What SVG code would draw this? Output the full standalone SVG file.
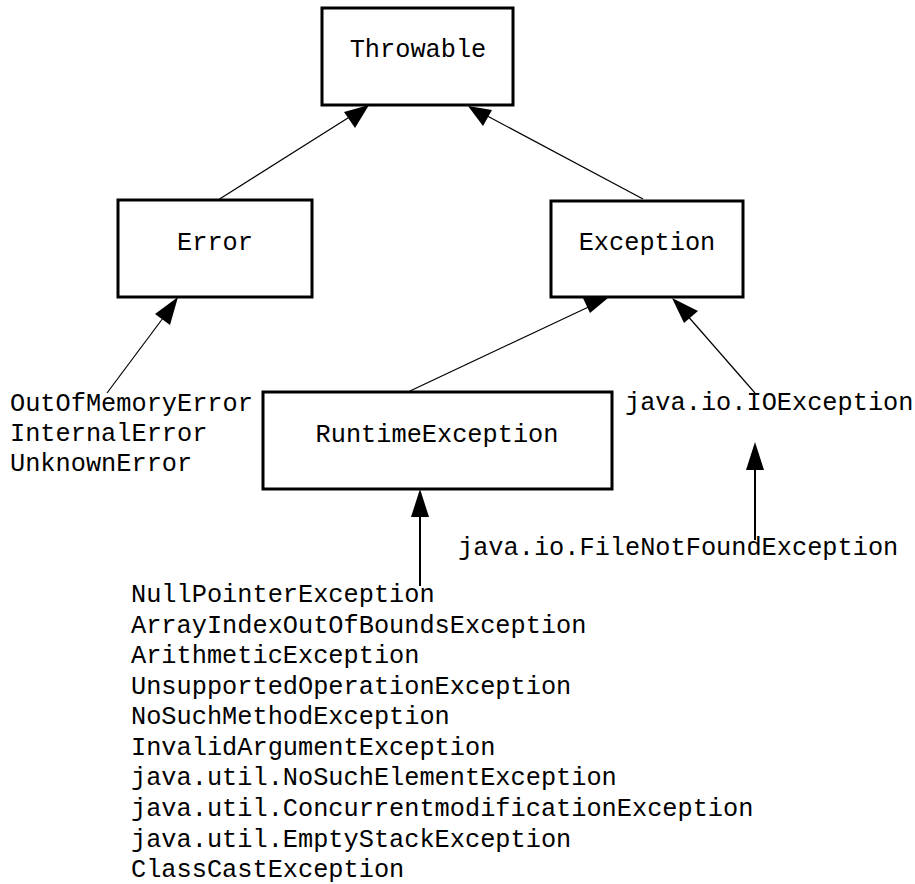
<svg xmlns="http://www.w3.org/2000/svg" width="915" height="884" viewBox="0 0 915 884">
<style>
.box{fill:#fff;stroke:#000;stroke-width:3}
.t{font-family:"Liberation Mono","Courier New",monospace;font-size:25.3px;fill:#000}
.m{text-anchor:middle}
.ln{stroke:#000;stroke-width:1.2;fill:none}
.lv{stroke:#000;stroke-width:2;fill:none}
.ah{fill:#000}
</style>
<rect width="915" height="884" fill="#fff"/>
<g id="connectors">
  <line class="ln" x1="218" y1="200" x2="359" y2="111"/>
  <polygon class="ah" points="369,105 344,112 355,128"/>
  <line class="ln" x1="643" y1="199" x2="478" y2="111"/>
  <polygon class="ah" points="468,106 483,126 492,110"/>
  <line class="ln" x1="107" y1="393" x2="172" y2="306"/>
  <polygon class="ah" points="178,297 155,314 170,325"/>
  <line class="ln" x1="410" y1="391" x2="597" y2="303"/>
  <polygon class="ah" points="608,298 582,296 590,313"/>
  <line class="ln" x1="755" y1="393" x2="679" y2="306"/>
  <polygon class="ah" points="672,298 684,323 698,311"/>
  <line class="lv" x1="755" y1="540" x2="755" y2="465"/>
  <polygon class="ah" points="755,442 746,470 764,470"/>
  <line class="lv" x1="420" y1="586" x2="420" y2="512"/>
  <polygon class="ah" points="420,489 411,517 429,517"/>
</g>
<g id="throwable">
  <rect class="box" x="322" y="8" width="191" height="97"/>
  <text class="t m" x="418" y="57">Throwable</text>
</g>
<g id="error">
  <rect class="box" x="118" y="200" width="194" height="97"/>
  <text class="t m" x="215" y="250">Error</text>
</g>
<g id="exception">
  <rect class="box" x="551" y="201" width="192" height="96"/>
  <text class="t m" x="647" y="250">Exception</text>
</g>
<g id="runtime">
  <rect class="box" x="263" y="392" width="349" height="97"/>
  <text class="t m" x="437" y="442">RuntimeException</text>
</g>
<g id="errors">
  <text class="t" x="10" y="411">OutOfMemoryError</text>
  <text class="t" x="10" y="441">InternalError</text>
  <text class="t" x="10" y="471">UnknownError</text>
</g>
<g id="ioexception">
  <text class="t" x="625" y="410">java.io.IOException</text>
</g>
<g id="filenotfound">
  <text class="t" x="458" y="555">java.io.FileNotFoundException</text>
</g>
<g id="runtime-list">
  <text class="t" x="131" y="602">NullPointerException</text>
  <text class="t" x="131" y="633">ArrayIndexOutOfBoundsException</text>
  <text class="t" x="131" y="663">ArithmeticException</text>
  <text class="t" x="131" y="694">UnsupportedOperationException</text>
  <text class="t" x="131" y="724">NoSuchMethodException</text>
  <text class="t" x="131" y="755">InvalidArgumentException</text>
  <text class="t" x="131" y="785">java.util.NoSuchElementException</text>
  <text class="t" x="131" y="816">java.util.ConcurrentmodificationException</text>
  <text class="t" x="131" y="847">java.util.EmptyStackException</text>
  <text class="t" x="131" y="877">ClassCastException</text>
</g>
</svg>
